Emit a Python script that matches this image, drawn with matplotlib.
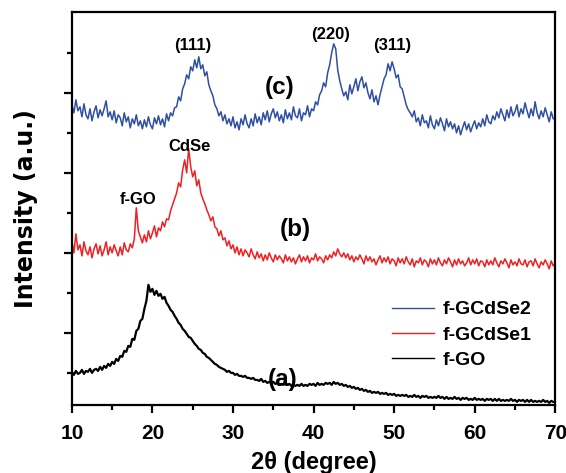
import numpy as np
import matplotlib
matplotlib.use("Agg")
import matplotlib.pyplot as plt
from matplotlib.ticker import FixedLocator, NullFormatter

plt.rcParams['font.family'] = ['Liberation Sans', 'DejaVu Sans']
plt.rcParams['font.weight'] = 'bold'

# 2-theta grid (degrees), 10..70 step 0.25
two_theta = np.arange(0, 241) * 0.25 + 10.0

# f-GCdSe2 (c), arbitrary units (offset stacked)
gcdse2 = [
    300, 292, 305, 294, 298, 288, 301, 290, 286, 296, 284, 293, 299, 287, 295, 289,
    296, 304, 288, 293, 285, 294, 282, 290, 287, 279, 292, 283, 288, 277, 286, 281,
    290, 279, 284, 276, 285, 278, 288, 280, 276, 287, 281, 289, 280, 286, 278, 291,
    284, 292, 289, 297, 298, 308, 304, 316, 321, 330, 326, 338, 334, 345, 337, 348,
    336, 340, 329, 333, 320, 314, 309, 300, 296, 289, 293, 284, 290, 281, 286, 279,
    288, 277, 283, 275, 286, 280, 290, 281, 277, 286, 279, 291, 282, 288, 280, 292,
    285, 294, 283, 291, 296, 287, 293, 284, 290, 282, 295, 286, 292, 285, 298, 289,
    287, 296, 284, 292, 290, 299, 288, 296, 294, 303, 300, 310, 314, 322, 318, 332,
    340, 352, 361, 356, 335, 324, 316, 309, 313, 305, 320, 311, 318, 326, 314, 323,
    328, 317, 322, 312, 306, 315, 303, 309, 300, 310, 318, 326, 330, 341, 334, 343,
    336, 327, 330, 318, 316, 308, 300, 295, 292, 288, 294, 283, 287, 279, 290, 282,
    284, 277, 289, 280, 276, 285, 279, 287, 281, 274, 286, 278, 283, 276, 281, 272,
    279, 270, 277, 283, 275, 281, 273, 279, 284, 276, 282, 278, 286, 279, 290, 283,
    281, 289, 285, 293, 287, 296, 290, 284, 295, 287, 298, 289, 293, 300, 288, 296,
    291, 302, 294, 287, 296, 289, 303, 292, 286, 294, 288, 297, 290, 283, 293, 286,
    287,
]

# f-GCdSe1 (b)
gcdse1 = [
    164, 152, 171, 155, 160, 149, 163, 154, 150, 158, 147, 156, 161, 151, 159, 149,
    155, 163, 150, 158, 152, 160, 154, 149, 158, 150, 162, 155, 153, 161, 157, 166,
    197, 174, 168, 162, 170, 163, 174, 166, 172, 179, 168, 177, 174, 183, 178, 186,
    185, 194, 200, 206, 212, 222, 218, 235, 245, 232, 256, 238, 228, 234, 219, 225,
    212, 206, 201, 195, 190, 184, 188, 178, 176, 169, 174, 165, 167, 159, 164, 156,
    160, 152, 158, 150, 156, 149, 155, 152, 148, 156, 150, 146, 153, 147, 151, 144,
    150, 145, 152, 147, 143, 150, 145, 149, 146, 142, 150, 144, 148, 143, 147, 141,
    146, 150, 143, 148, 144, 149, 142, 147, 145, 151, 144, 148, 146, 142, 149, 145,
    150, 147, 153, 149, 156, 151, 148, 152, 147, 151, 145, 149, 143, 148, 145, 150,
    146, 141, 149, 144, 148, 143, 146, 140, 145, 149, 142, 147, 143, 148, 141, 146,
    144, 139, 147, 142, 146, 141, 148, 143, 140, 146, 138, 144, 142, 147, 140, 145,
    143, 138, 146, 141, 145, 140, 147, 142, 139, 145, 141, 147, 143, 138, 145, 140,
    146, 141, 144, 139, 142, 147, 140, 145, 141, 146, 139, 144, 143, 138, 145, 140,
    144, 140, 147, 142, 138, 144, 141, 146, 142, 137, 145, 140, 143, 139, 146, 141,
    140, 145, 138, 143, 144, 139, 146, 141, 137, 143, 140, 145, 141, 136, 144, 139,
    142,
]

# f-GO (a)
fgo = [
    33, 30, 34, 31, 32, 35, 31, 34, 33, 36, 32, 35, 36, 34, 38, 35,
    39, 37, 41, 39, 43, 41, 46, 44, 49, 48, 54, 53, 59, 58, 66, 65,
    74, 76, 84, 86, 96, 104, 120, 113, 116, 110, 114, 109, 111, 106, 108, 102,
    99, 95, 93, 89, 86, 82, 80, 76, 74, 71, 68, 67, 64, 61, 59, 56,
    55, 52, 51, 48, 47, 45, 43, 41, 40, 38, 37, 36, 35, 33, 34, 32,
    32, 30, 31, 29, 29, 28, 29, 27, 27, 26, 27, 25, 25, 24, 26, 23,
    24, 22, 23, 22, 23, 21, 22, 20, 21, 20, 22, 20, 21, 19, 20, 19,
    20, 19, 21, 19, 20, 19, 21, 20, 21, 19, 22, 20, 21, 20, 22, 21,
    22, 20, 23, 21, 22, 20, 21, 19, 20, 18, 19, 17, 18, 16, 17, 15,
    16, 14, 15, 13, 14, 12, 13, 12, 13, 11, 12, 11, 12, 10, 11, 10,
    11, 9, 10, 9, 10, 9, 10, 8, 9, 8, 10, 8, 9, 7, 9, 8,
    9, 7, 8, 7, 8, 7, 9, 7, 8, 6, 8, 6, 7, 6, 8, 6,
    7, 5, 7, 6, 7, 5, 6, 5, 7, 5, 6, 5, 6, 4, 6, 5,
    6, 4, 6, 4, 6, 4, 5, 4, 5, 4, 6, 4, 5, 3, 5, 4,
    5, 3, 5, 3, 5, 3, 4, 3, 4, 3, 5, 3, 4, 2, 4, 3,
    3,
]

series_labels = ["f-GCdSe2", "f-GCdSe1", "f-GO"]
colors = ["#2F4FA2", "#EE2024", "#000000"]

fig = plt.figure(figsize=(5.66, 4.73), dpi=100)
ax = fig.add_axes([0.127, 0.144, 0.854, 0.830])

ax.plot(two_theta, gcdse2, color=colors[0], lw=1.1, label=series_labels[0])
ax.plot(two_theta, gcdse1, color=colors[1], lw=1.1, label=series_labels[1])
ax.plot(two_theta, fgo, color=colors[2], lw=1.6, label=series_labels[2])

ax.set_xlim(10, 70)
ax.set_ylim(0, 392.5)
ax.set_xticks([10, 20, 30, 40, 50, 60, 70])
ax.xaxis.set_minor_locator(FixedLocator([15, 25, 35, 45, 55, 65]))
ax.yaxis.set_major_locator(FixedLocator([72, 152, 232, 312]))
ax.yaxis.set_minor_locator(FixedLocator([32, 112, 192, 272, 352]))
ax.yaxis.set_major_formatter(NullFormatter())

for s in ax.spines.values():
    s.set_linewidth(1.6)
ax.tick_params(axis='both', which='major', direction='out', length=6, width=1.6,
               labelsize=15, pad=8)
ax.tick_params(axis='both', which='minor', direction='out', length=3.5, width=1.6)
for lab in ax.get_xticklabels():
    lab.set_fontweight('bold')

ax.set_xlabel("2θ (degree)", fontsize=17, fontweight='bold', labelpad=5.5)
ax.set_ylabel("Intensity (a.u.)", fontsize=17, fontweight='bold', labelpad=10.5,
              family=['DejaVu Sans'])

ann = dict(ha='center', va='center', fontweight='bold')
ax.text(25.0, 359, "(111)", fontsize=12, **ann)
ax.text(42.1, 370, "(220)", fontsize=12, **ann)
ax.text(49.8, 359, "(311)", fontsize=12, **ann)
ax.text(35.8, 317, "(c)", fontsize=17.5, **ann)
ax.text(24.6, 258, "CdSe", fontsize=12, **ann)
ax.text(18.2, 205, "f-GO", fontsize=12, **ann)
ax.text(37.7, 175, "(b)", fontsize=17.5, **ann)
ax.text(36.1, 25, "(a)", fontsize=17.5, **ann)

leg = ax.legend(loc='upper left', bbox_to_anchor=(0.662, 0.265), frameon=False,
                fontsize=14, handlelength=2.15, handletextpad=0.45,
                labelspacing=0.4, borderaxespad=0, borderpad=0)
for t in leg.get_texts():
    t.set_fontweight('bold')
for h in leg.get_lines():
    h.set_linewidth(1.0)

fig.savefig("out.png", dpi=100)
